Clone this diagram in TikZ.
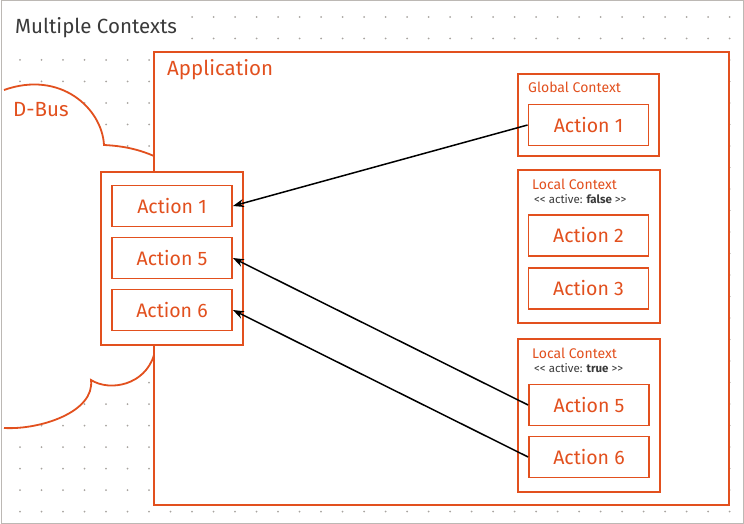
\documentclass[tikz,border=0pt]{standalone}
\usepackage{fontspec}
\setmainfont{Fira Sans}
\newfontfamily\rawsans{Fira Sans}
\usetikzlibrary{arrows.meta}
\definecolor{uor}{HTML}{E2501E}
\definecolor{tgrey}{HTML}{3A3A3A}
\definecolor{dotc}{HTML}{A8A4A0}
\definecolor{frame}{HTML}{BCB8B4}
\tikzset{
  obox/.style={draw=uor, line width=1.8pt, fill=white},
  act/.style={obox, minimum width=120pt, minimum height=41pt, inner sep=0pt, text=uor, font=\fontsize{19.5}{22}\selectfont},
  ctxlabel/.style={anchor=base west, inner sep=0pt, text=uor, font=\fontsize{14}{16}\selectfont},
  actlabel/.style={anchor=base west, inner sep=0pt, text=tgrey, font=\rawsans\fontsize{11.5}{13}\selectfont},
  biglabel/.style={anchor=base west, inner sep=0pt, font=\fontsize{20.5}{24}\selectfont},
  arr/.style={line width=1.5pt, -{Stealth[length=11pt,width=8pt]}}
}
\begin{document}
\begin{tikzpicture}[x=1pt,y=-1pt]
\useasboundingbox (0,0) rectangle (744,524);
% dot grid
\foreach \i in {0,...,33}{
  \foreach \j in {0,...,23}{
    \fill[dotc] ({20+21.5*\i},{17+21.5*\j}) circle (1pt);
  }
}
% frame
\draw[frame, line width=1pt] (1,1) rectangle (743,523);
\fill[white] (2,2) rectangle (186,50);
\node[biglabel, text=tgrey] (title) at (15,34) {Multiple Contexts};
% cloud
\fill[white] (2,90) -- (4,90) .. controls (60,70) and (102,108) .. (104,145)
  .. controls (125,146) and (140,150) .. (154,156) -- (154,355)
  .. controls (145,385) and (110,392) .. (91,380)
  .. controls (95,412) and (40,430) .. (4,428) -- (2,428) -- cycle;
\draw[uor, line width=1.8pt] (4,90) .. controls (60,70) and (102,108) .. (104,145)
  .. controls (125,146) and (140,150) .. (154,156);
\draw[uor, line width=1.8pt] (154,355)
  .. controls (145,385) and (110,392) .. (91,380)
  .. controls (95,412) and (40,430) .. (4,428);
\node[biglabel, text=uor] (dbus) at (13,117) {D-Bus};
% application
\draw[obox] (154,52) rectangle (729,505);
\node[biglabel, text=uor] (app) at (167,76) {Application};
% D-Bus box
\draw[obox] (101,172) rectangle (243,345);
\node[act] (d1) at (172,206) {Action 1};
\node[act] (d5) at (172,258) {Action 5};
\node[act] (d6) at (172,310) {Action 6};
% global context
\draw[obox] (518,74) rectangle (659,156);
\node[ctxlabel] (gl) at (528,93) {Global Context};
\node[act] (g1) at (588.5,125) {Action 1};
% local context false
\draw[obox] (518,170) rectangle (660,323);
\node[ctxlabel] (l1) at (532,189) {Local Context};
\node[actlabel] (l1a) at (534,203) {<< active: \textbf{false} >>};
\node[act] (a2) at (588.5,235.5) {Action 2};
\node[act] (a3) at (588.5,288.5) {Action 3};
% local context true
\draw[obox] (518,339) rectangle (660,492);
\node[ctxlabel] (l2) at (532,358) {Local Context};
\node[actlabel] (l2a) at (534,372) {<< active: \textbf{true} >>};
\node[act] (a5) at (589,405) {Action 5};
\node[act] (a6) at (589,457) {Action 6};
% arrows
\draw[arr] (g1.west) -- (d1.east);
\draw[arr] (a5.west) -- (d5.east);
\draw[arr] (a6.west) -- (d6.east);
\end{tikzpicture}
\end{document}
